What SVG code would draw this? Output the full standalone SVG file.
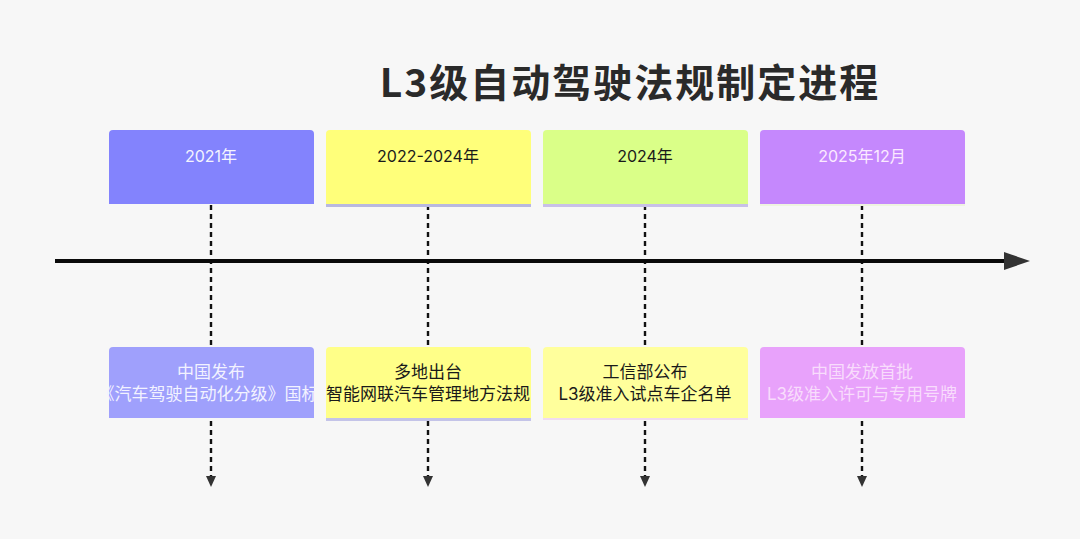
<svg xmlns="http://www.w3.org/2000/svg" width="1080" height="539" viewBox="0 0 1080 539">
  <style>
    .lbl { font-family: "Inter", "Noto Sans CJK SC", sans-serif; font-size: 16px; text-anchor: middle; }
    .desc { font-family: "Inter", "Noto Sans CJK SC", sans-serif; font-size: 17px; text-anchor: middle; }
    .dash { stroke: #111; stroke-width: 2.4; stroke-dasharray: 5 4; fill: none; }
    .head { fill: #333; }
    .title { font-family: "Noto Sans CJK SC", "Noto Sans", sans-serif; font-size: 39px; font-weight: 700; fill: #2a2a2a; text-anchor: middle; letter-spacing: 2px; }
  </style>
  <defs>
    <clipPath id="clip1"><rect x="90" y="347" width="225" height="72"/></clipPath>
  </defs>
  <rect width="1080" height="539" fill="#f7f7f7"/>
  <text class="title" x="630" y="97">L3级自动驾驶法规制定进程</text>

  <g id="connectors">
    <line class="dash" x1="211" y1="205" x2="211" y2="477"/>
    <path class="head" d="M206,476 L216,476 L211,487 Z"/>
    <line class="dash" x1="428" y1="205" x2="428" y2="477"/>
    <path class="head" d="M423,476 L433,476 L428,487 Z"/>
    <line class="dash" x1="645" y1="205" x2="645" y2="477"/>
    <path class="head" d="M640,476 L650,476 L645,487 Z"/>
    <line class="dash" x1="862" y1="205" x2="862" y2="477"/>
    <path class="head" d="M857,476 L867,476 L862,487 Z"/>
    <line x1="55" y1="261" x2="1006" y2="261" stroke="#0a0a0a" stroke-width="4"/>
    <path d="M1004,252 L1030,261 L1004,270 Z" fill="#333"/>
  </g>

  <g id="top-2021">
    <path d="M109,134 a4,4 0 0 1 4,-4 h197 a4,4 0 0 1 4,4 v70 h-205 Z" fill="#8383fd"/>
    <text class="lbl" x="211" y="162" fill="#f4f4ff">2021年</text>
  </g>
  <g id="top-2022">
    <path d="M326,134 a4,4 0 0 1 4,-4 h197 a4,4 0 0 1 4,4 v71 h-205 Z" fill="#ffff7a"/>
    <rect x="326" y="204" width="205" height="3" fill="#b8b8e0"/>
    <text class="lbl" x="428" y="162" fill="#1a1a1a">2022-2024年</text>
  </g>
  <g id="top-2024">
    <path d="M543,134 a4,4 0 0 1 4,-4 h197 a4,4 0 0 1 4,4 v71 h-205 Z" fill="#daff88"/>
    <rect x="543" y="204" width="205" height="3" fill="#c8c0e8"/>
    <text class="lbl" x="645" y="162" fill="#1a1a1a">2024年</text>
  </g>
  <g id="top-2025">
    <path d="M760,134 a4,4 0 0 1 4,-4 h197 a4,4 0 0 1 4,4 v70 h-205 Z" fill="#c588fd"/>
    <rect x="760" y="204" width="205" height="2" fill="#eef4e0"/>
    <text class="lbl" x="862" y="162" fill="#fbeaff">2025年12月</text>
  </g>

  <g id="bottom-2021">
    <path d="M109,351 a4,4 0 0 1 4,-4 h197 a4,4 0 0 1 4,4 v67 h-205 Z" fill="#9fa0fc"/>
    <text class="desc" x="211" y="378" fill="#f2f2ff">中国发布</text>
    <text class="desc" x="208" y="400" fill="#f2f2ff" clip-path="url(#clip1)">《汽车驾驶自动化分级》国标</text>
  </g>
  <g id="bottom-2022">
    <path d="M326,351 a4,4 0 0 1 4,-4 h197 a4,4 0 0 1 4,4 v67 h-205 Z" fill="#ffff88"/>
    <rect x="326" y="418" width="205" height="3" fill="#c4c4e8"/>
    <text class="desc" x="428" y="378" fill="#1a1a1a">多地出台</text>
    <text class="desc" x="428" y="400" fill="#1a1a1a">智能网联汽车管理地方法规</text>
  </g>
  <g id="bottom-2024">
    <path d="M543,351 a4,4 0 0 1 4,-4 h197 a4,4 0 0 1 4,4 v67 h-205 Z" fill="#ffff9c"/>
    <rect x="543" y="418" width="205" height="2" fill="#f0dcf0"/>
    <text class="desc" x="645" y="378" fill="#1a1a1a">工信部公布</text>
    <text class="desc" x="645" y="400" fill="#1a1a1a">L3级准入试点车企名单</text>
  </g>
  <g id="bottom-2025">
    <path d="M760,351 a4,4 0 0 1 4,-4 h197 a4,4 0 0 1 4,4 v67 h-205 Z" fill="#e8a2fb"/>
    <text class="desc" x="862" y="378" fill="#f8dcfc">中国发放首批</text>
    <text class="desc" x="862" y="400" fill="#f8dcfc">L3级准入许可与专用号牌</text>
  </g>
</svg>
